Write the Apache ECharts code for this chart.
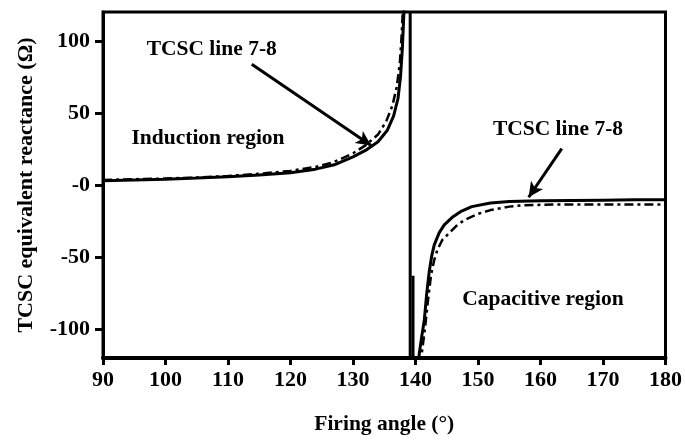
<!DOCTYPE html>
<html>
<head>
<meta charset="utf-8">
<script src="https://cdn.jsdelivr.net/npm/echarts@6/dist/echarts.min.js"></script>
<style>
html,body{margin:0;padding:0;background:#fff;}
#c{width:685px;height:440px;}
</style>
</head>
<body>
<div id="c"></div>
<script>
// Solid curve (TCSC line 7-8), induction branch [firing angle, reactance]
var solidInductive = [[90,3],[95,3.5],[100,4],[105,4.8],[110,5.8],[115,7],[120,8.5],[124,11],[127,14],[130,19.5],[132,24],[134,30],[135.5,38],[136.5,48],[137.2,60],[137.6,75],[137.9,95],[138.1,115],[138.2,125]];
// Solid curve, capacitive branch
var solidCapacitive = [[140.5,-125],[140.6,-117],[141,-105],[141.4,-94],[141.8,-75],[142.2,-60],[142.6,-49],[143,-41.5],[143.8,-33],[144.6,-27.7],[146,-22],[147.2,-18.5],[149,-15],[152,-12.5],[155,-11.5],[160,-11],[165,-10.7],[170,-10.5],[175,-10.3],[180,-10.2]];
// Dash-dot curve, induction branch
var dashInductive = [[90,3.5],[95,4],[100,4.5],[105,5.2],[110,6.3],[115,7.8],[120,9.8],[124,12.5],[127,16],[130,22],[132,27.5],[134,35],[135.3,44],[136.3,55],[137,68],[137.5,85],[137.8,105],[138,125]];
// Dash-dot curve, capacitive branch
var dashCapacitive = [[140.8,-125],[141,-117],[141.5,-100],[142,-80],[142.5,-62],[143,-52],[143.5,-45],[144.3,-38],[145.1,-34.6],[146.5,-28.5],[147.8,-24.3],[150,-20],[152,-17.4],[155,-15],[157.3,-14],[162,-13.6],[170,-13.5],[180,-13.5]];
// Vertical jump lines at the resonance point
var asymptote = [[139.15,-120],[139.15,120]];
var jumpSegment = [[139.6,-63],[139.6,-120]];
// Tick values
var yTicks = [-100,-50,0,50,100];
// Annotations (data coordinates)
var texts = [
  {name:'TCSC line 7-8', coord:[107.4,94]},
  {name:'Induction region', coord:[106.8,32]},
  {name:'TCSC line 7-8', coord:[162.8,38.3]},
  {name:'Capacitive region', coord:[160.4,-79.4]}
];
var arrows = [
  [[113.8,83.8],[132.9,27.4]],
  [[163.4,25.2],[158.1,-8.5]]
];

var FONT = 'Liberation Serif';
var chart = echarts.init(document.getElementById('c'), null, {renderer:'canvas'});
var lineBase = {type:'line', symbol:'none', silent:true, clip:true, animation:false};
chart.setOption({
  backgroundColor:'#fff',
  animation:false,
  grid:{left:103, right:16, top:12, bottom:79, show:true, borderColor:'#000', borderWidth:3, backgroundColor:'transparent'},
  xAxis:{
    type:'value', min:90, max:180, interval:10,
    name:'Firing angle (°)', nameLocation:'middle', nameGap:55,
    nameTextStyle:{fontFamily:FONT, fontWeight:'bold', fontSize:21.5, color:'#000'},
    axisLine:{show:true, onZero:false, lineStyle:{color:'#000', width:4}},
    axisTick:{show:true, length:7, lineStyle:{color:'#000', width:3}},
    axisLabel:{fontFamily:FONT, fontWeight:'bold', fontSize:22, color:'#000', margin:11},
    splitLine:{show:false}
  },
  yAxis:{
    type:'value', min:-120, max:120,
    name:'TCSC equivalent reactance (Ω)', nameLocation:'middle', nameGap:66, nameRotate:90,
    nameTextStyle:{fontFamily:FONT, fontWeight:'bold', fontSize:22, color:'#000'},
    axisLine:{show:true, onZero:false, lineStyle:{color:'#000', width:3}},
    axisTick:{show:true, length:8, customValues:yTicks, lineStyle:{color:'#000', width:3}},
    axisLabel:{fontFamily:FONT, fontWeight:'bold', fontSize:22, color:'#000', margin:13, customValues:yTicks,
      formatter:function(v){return v===0?'-0':String(v);}},
    splitLine:{show:false}
  },
  series:[
    Object.assign({}, lineBase, {data:solidInductive, lineStyle:{color:'#000', width:3}}),
    Object.assign({}, lineBase, {data:solidCapacitive, lineStyle:{color:'#000', width:3}}),
    Object.assign({}, lineBase, {data:dashInductive, lineStyle:{color:'#000', width:2.5, type:[9,4,3,4]}}),
    Object.assign({}, lineBase, {data:dashCapacitive, lineStyle:{color:'#000', width:2.5, type:[9,4,3,4]}}),
    Object.assign({}, lineBase, {data:asymptote, lineStyle:{color:'#000', width:3}}),
    Object.assign({}, lineBase, {data:jumpSegment, lineStyle:{color:'#000', width:3}}),
    Object.assign({}, lineBase, {
      data:[],
      markPoint:{
        silent:true, symbol:'circle', symbolSize:0, animation:false,
        label:{show:true, position:'inside', color:'#000', fontFamily:FONT, fontWeight:'bold', fontSize:21.5,
          formatter:function(p){return p.name;}},
        data:texts.map(function(t){return {name:t.name, coord:t.coord};})
      },
      markLine:{
        silent:true, animation:false, symbol:['none','arrow'], symbolSize:[11,15],
        label:{show:false},
        lineStyle:{color:'#000', width:3, type:'solid'},
        data:arrows.map(function(a){return [{coord:a[0]},{coord:a[1]}];})
      }
    })
  ]
});
</script>
</body>
</html>
